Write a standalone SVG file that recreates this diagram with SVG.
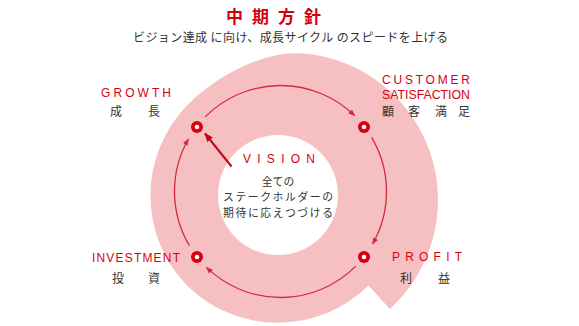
<svg xmlns="http://www.w3.org/2000/svg" width="579" height="326" viewBox="0 0 579 326">
<style>
.jp{font-family:"Noto Sans CJK JP","Noto Sans",sans-serif;fill:#333;font-size:12px}
.jc{font-family:"Noto Sans CJK JP","Noto Sans",sans-serif;fill:#333;font-size:10.8px}
.en{font-family:"Liberation Sans",Arial,sans-serif;fill:#d7000f;font-size:12px}
.arc{fill:none;stroke:#d9283a;stroke-width:1.3}
.dot{fill:#d7000f}
.hole{fill:#fff}
</style>
<defs>
<marker id="ah" viewBox="0 0 10 10" refX="9" refY="5" markerWidth="7" markerHeight="7" markerUnits="userSpaceOnUse" orient="auto"><path d="M0,1 L10,5 L0,9 z" fill="#d9283a"/></marker>
<marker id="ah2" viewBox="0 0 10 10" refX="9" refY="5" markerWidth="9" markerHeight="9" markerUnits="userSpaceOnUse" orient="auto"><path d="M0,1 L10,5 L0,9 z" fill="#c8001a"/></marker>
</defs>
<g id="title">
<text x="278" y="23" text-anchor="middle" style="font-family:'Noto Sans CJK JP',sans-serif;font-weight:bold;font-size:17px;fill:#d7000f;letter-spacing:9px">中期方針</text>
<text x="133" y="42" class="jp" textLength="315" lengthAdjust="spacing">ビジョン達成 に向け、成長サイクル のスピードを上げる</text>
</g>
<g id="cycle-shape">
<path d="M 389.8 308.9 L 368.5 285.5 A 129 129 0 0 1 187.5 286 A 129 129 0 0 1 189 103.5 C 217 76 264 50.1 303.8 53.6 A 147 147 0 0 1 389.8 308.9 Z" fill="#f6c0c2"/>
<circle class="hole" cx="278" cy="195" r="60"/>
</g>
<g id="connectors">
<path class="arc" d="M205.2,116.9 A106,106 0 0 1 354.5,115.6" marker-end="url(#ah)"/>
<path class="arc" d="M371.6,137.4 A106,106 0 0 1 372.6,244.0" marker-end="url(#ah)"/>
<path class="arc" d="M355.8,266.1 A106,106 0 0 1 206.5,267.4" marker-end="url(#ah)"/>
<path class="arc" d="M189.4,245.6 A106,106 0 0 1 188.4,139.0" marker-end="url(#ah)"/>
<line x1="231.5" y1="166.5" x2="205" y2="133.5" stroke="#c8001a" stroke-width="2" marker-end="url(#ah2)"/>
</g>
<g id="vision">
<text x="243" y="162.5" class="en" textLength="72" lengthAdjust="spacing">VISION</text>
<text x="278" y="185.5" class="jc" text-anchor="middle">全ての</text>
<text x="223" y="201" class="jc" textLength="110" lengthAdjust="spacing">ステークホルダーの</text>
<text x="223" y="216.5" class="jc" textLength="110" lengthAdjust="spacing">期待に応えつづける</text>
</g>
<g id="growth">
<circle class="dot" cx="197" cy="127" r="6"/><circle class="hole" cx="197" cy="127" r="2.3"/>
<text x="101" y="96.5" class="en" textLength="70" lengthAdjust="spacing">GROWTH</text>
<text class="jp" x="110 148" y="115.5">成長</text>
</g>
<g id="customer-satisfaction">
<circle class="dot" cx="364" cy="127" r="6"/><circle class="hole" cx="364" cy="127" r="2.3"/>
<text x="382" y="84" class="en" textLength="88" lengthAdjust="spacing">CUSTOMER</text>
<text x="382" y="98.5" class="en" textLength="88" lengthAdjust="spacingAndGlyphs">SATISFACTION</text>
<text class="jp" x="382 408 435 458" y="115.5">顧客満足</text>
</g>
<g id="profit">
<circle class="dot" cx="364" cy="257" r="6"/><circle class="hole" cx="364" cy="257" r="2.3"/>
<text x="392" y="261" class="en" textLength="70" lengthAdjust="spacing">PROFIT</text>
<text class="jp" x="400 438" y="283">利益</text>
</g>
<g id="investment">
<circle class="dot" cx="197" cy="257" r="6"/><circle class="hole" cx="197" cy="257" r="2.3"/>
<text x="92" y="262" class="en" textLength="88" lengthAdjust="spacing">INVESTMENT</text>
<text class="jp" x="112 148" y="283">投資</text>
</g>
</svg>
